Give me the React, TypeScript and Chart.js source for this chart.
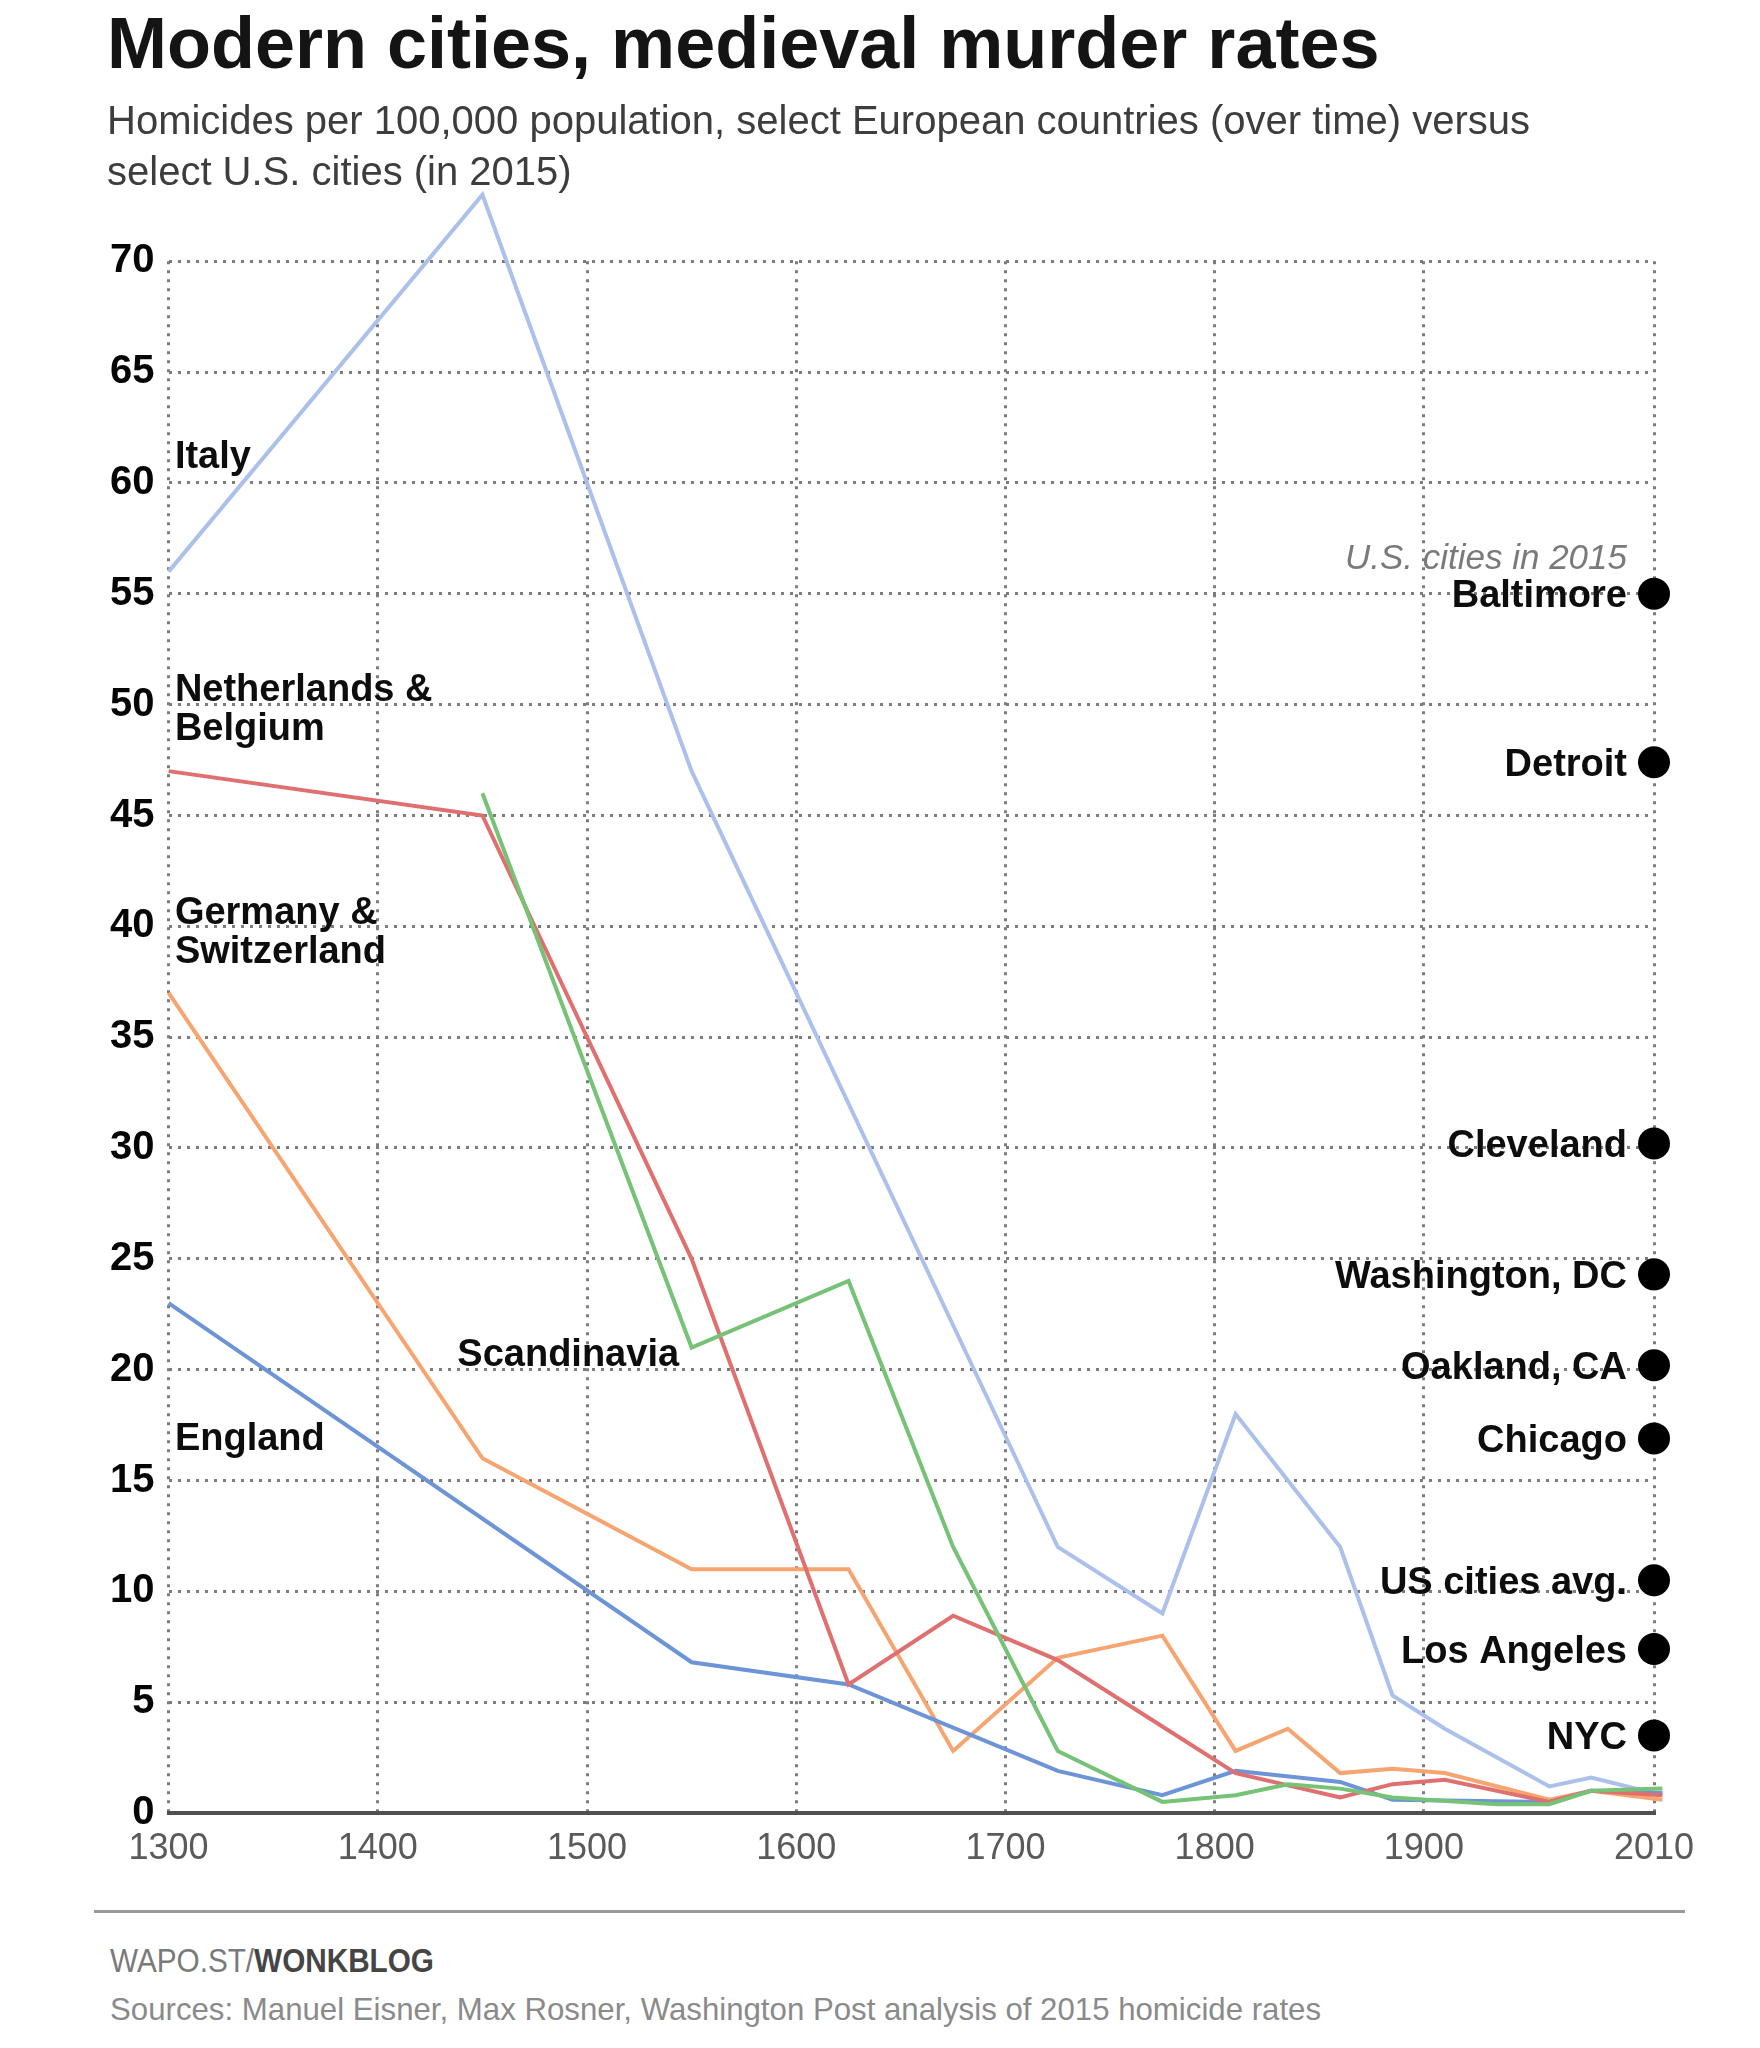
import React, { useEffect, useRef } from "react";
import { Chart, registerables } from "chart.js";

Chart.register(...registerables);

// ---------------- data ----------------
const italyYears = [1300, 1450, 1550, 1725, 1775, 1810, 1860, 1885, 1910, 1960, 1980, 2014];
const italyRates = [56, 73, 47, 12, 9, 18, 12, 5.3, 3.8, 1.2, 1.6, 0.8];

const netherlandsYears = [1300, 1450, 1550, 1625, 1675, 1725, 1775, 1810, 1860, 1885, 1910, 1960, 1980, 2014];
const netherlandsRates = [47, 45, 25, 5.8, 8.9, 6.9, 3.9, 1.8, 0.7, 1.3, 1.5, 0.5, 1.0, 0.8];

const germanyYears = [1300, 1450, 1550, 1625, 1675, 1725, 1775, 1810, 1835, 1860, 1885, 1910, 1960, 1980, 2014];
const germanyRates = [37, 16, 11, 11, 2.8, 7, 8, 2.8, 3.8, 1.8, 2.0, 1.8, 0.6, 1.0, 0.6];

const scandinaviaYears = [1450, 1550, 1625, 1675, 1725, 1775, 1810, 1835, 1860, 1885, 1935, 1960, 1980, 2014];
const scandinaviaRates = [46, 21, 24, 12, 2.8, 0.5, 0.8, 1.3, 1.1, 0.7, 0.4, 0.4, 1.0, 1.1];

const englandYears = [1300, 1550, 1625, 1725, 1775, 1810, 1860, 1885, 1960, 1980, 2014];
const englandRates = [23, 6.8, 5.8, 1.9, 0.8, 1.9, 1.4, 0.6, 0.5, 1.0, 0.9];

const cityNames = ["Baltimore", "Detroit", "Cleveland", "Washington, DC", "Oakland, CA", "Chicago", "US cities avg.", "Los Angeles", "NYC"];
const cityRates2015 = [55.0, 47.4, 30.2, 24.3, 20.2, 16.9, 10.5, 7.4, 3.5];
const cityMarkerYear = 2010;

const xTickYears = [1300, 1400, 1500, 1600, 1700, 1800, 1900, 2010];
const yTickValues = [0, 5, 10, 15, 20, 25, 30, 35, 40, 45, 50, 55, 60, 65, 70];

// label anchors (data coordinates)
const seriesLabelText = [["Italy"], ["Netherlands &", "Belgium"], ["Germany &", "Switzerland"], ["Scandinavia"], ["England"]];
const seriesLabelYears = [1303, 1303, 1303, 1438, 1303];
const seriesLabelValues = [61.3, 50.8, 40.7, 20.8, 17.0];
const noteValue = 56.7;

// ---------------- styles ----------------
const FONT = '"Liberation Sans", Arial, sans-serif';
const LABEL_SIZE = 38;
const CAP_HALF = 0.716 * LABEL_SIZE / 2;

const colors = {
  italy: "rgb(172,192,236)",
  netherlands: "rgb(224,112,112)",
  germany: "rgb(246,164,112)",
  scandinavia: "rgb(118,194,118)",
  england: "rgb(108,148,214)",
};

const toPoints = (xs: number[], ys: number[]) => xs.map((x, i) => ({ x, y: ys[i] }));

const labelPlugin = {
  id: "customLabels",
  afterDatasetsDraw(chart: any) {
    const { ctx, scales } = chart;
    const x = scales.x;
    const y = scales.y;
    ctx.save();
    ctx.fillStyle = "#0d0d0d";
    ctx.font = `bold ${LABEL_SIZE}px ${FONT}`;
    ctx.textBaseline = "alphabetic";
    ctx.textAlign = "left";
    seriesLabelText.forEach((lines, i) => {
      const px = x.getPixelForValue(seriesLabelYears[i]);
      const py = y.getPixelForValue(seriesLabelValues[i]);
      lines.forEach((t, j) => ctx.fillText(t, px, py + CAP_HALF + j * 39));
    });
    ctx.textAlign = "right";
    const cx = x.getPixelForValue(cityMarkerYear) - 27;
    cityNames.forEach((n, i) => {
      const py = y.getPixelForValue(cityRates2015[i]);
      ctx.fillText(n, cx, py + CAP_HALF);
    });
    ctx.font = `italic 35px ${FONT}`;
    ctx.fillStyle = "#7a7a7a";
    ctx.fillText("U.S. cities in 2015", cx, y.getPixelForValue(noteValue) + 0.716 * 35 / 2);
    ctx.restore();
  },
};

export default function App() {
  const canvasRef = useRef<HTMLCanvasElement | null>(null);

  useEffect(() => {
    const canvas = canvasRef.current;
    if (!canvas) return;
    const lineDs = (data: any, color: string) => ({
      type: "line" as const,
      data,
      borderColor: color,
      backgroundColor: color,
      borderWidth: 4,
      pointRadius: 0,
      tension: 0,
      fill: false,
      clip: false as any,
    });
    const grid = { color: "#7c7c7c", lineWidth: 3, drawTicks: false };
    const chart = new Chart(canvas, {
      type: "line",
      data: {
        datasets: [
          {
            type: "scatter" as any,
            data: cityRates2015.map((v) => ({ x: cityMarkerYear, y: v })),
            backgroundColor: "#000",
            borderColor: "#000",
            borderWidth: 0,
            pointRadius: 16,
            showLine: false,
            clip: false as any,
          } as any,
          lineDs(toPoints(scandinaviaYears, scandinaviaRates), colors.scandinavia),
          lineDs(toPoints(netherlandsYears, netherlandsRates), colors.netherlands),
          lineDs(toPoints(englandYears, englandRates), colors.england),
          lineDs(toPoints(germanyYears, germanyRates), colors.germany),
          lineDs(toPoints(italyYears, italyRates), colors.italy),
        ],
      },
      options: {
        responsive: false,
        animation: false,
        devicePixelRatio: 1,
        layout: { padding: { top: 261.3, right: 106, left: 0, bottom: 0 } },
        plugins: { legend: { display: false }, tooltip: { enabled: false }, title: { display: false } },
        scales: {
          x: {
            type: "linear",
            min: 1300,
            max: 2010,
            afterBuildTicks: (s: any) => {
              s.ticks = xTickYears.map((v) => ({ value: v }));
            },
            afterFit: (s: any) => {
              s.height = 87;
            },
            grid,
            border: { display: true, color: "#505050", width: 4, dash: [3, 6] },
            ticks: {
              padding: 14,
              color: "#5a5a5a",
              autoSkip: false,
              maxRotation: 0,
              font: { family: FONT, size: 36 },
              callback: (v: any) => String(v),
            },
          },
          y: {
            type: "linear",
            min: 0,
            max: 70,
            afterBuildTicks: (s: any) => {
              s.ticks = yTickValues.map((v) => ({ value: v }));
            },
            afterFit: (s: any) => {
              s.width = 168.6;
            },
            grid,
            border: { display: false, dash: [3, 6] },
            ticks: {
              padding: 14,
              color: "#050505",
              font: { family: FONT, size: 40, weight: "bold" },
              callback: (v: any) => String(v),
            },
          },
        },
      } as any,
      plugins: [labelPlugin],
    });
    return () => chart.destroy();
  }, []);

  return (
    <div style={{ position: "absolute", left: 0, top: 0, width: 1760, height: 2048, background: "#fff", overflow: "hidden" }}>
      <canvas
        ref={canvasRef}
        width={1760}
        height={1900}
        style={{ position: "absolute", left: 0, top: 0, width: 1760, height: 1900 }}
      />
      <div
        style={{
          position: "absolute",
          left: 107,
          top: 7,
          font: `bold 72px ${FONT}`,
          lineHeight: "72px",
          color: "#141414",
          whiteSpace: "nowrap",
        }}
      >
        Modern cities, medieval murder rates
      </div>
      <div
        style={{
          position: "absolute",
          left: 107,
          top: 95,
          font: `40px ${FONT}`,
          lineHeight: "51px",
          color: "#3d3d3d",
          whiteSpace: "nowrap",
        }}
      >
        Homicides per 100,000 population, select European countries (over time) versus
        <br />
        select U.S. cities (in 2015)
      </div>
      <div style={{ position: "absolute", left: 94, top: 1910, width: 1591, height: 3, background: "#9a9a9a" }} />
      <div
        style={{
          position: "absolute",
          left: 110,
          top: 1944,
          font: `33px ${FONT}`,
          lineHeight: "33px",
          color: "#7a7a7a",
          whiteSpace: "nowrap",
          transform: "scaleX(0.9)",
          transformOrigin: "0 0",
        }}
      >
        WAPO.ST/<span style={{ fontWeight: "bold", color: "#454545" }}>WONKBLOG</span>
      </div>
      <div
        style={{
          position: "absolute",
          left: 110,
          top: 1993,
          font: `32px ${FONT}`,
          lineHeight: "32px",
          color: "#8a8a8a",
          whiteSpace: "nowrap",
          transform: "scaleX(0.975)",
          transformOrigin: "0 0",
        }}
      >
        Sources: Manuel Eisner, Max Rosner, Washington Post analysis of 2015 homicide rates
      </div>
    </div>
  );
}
